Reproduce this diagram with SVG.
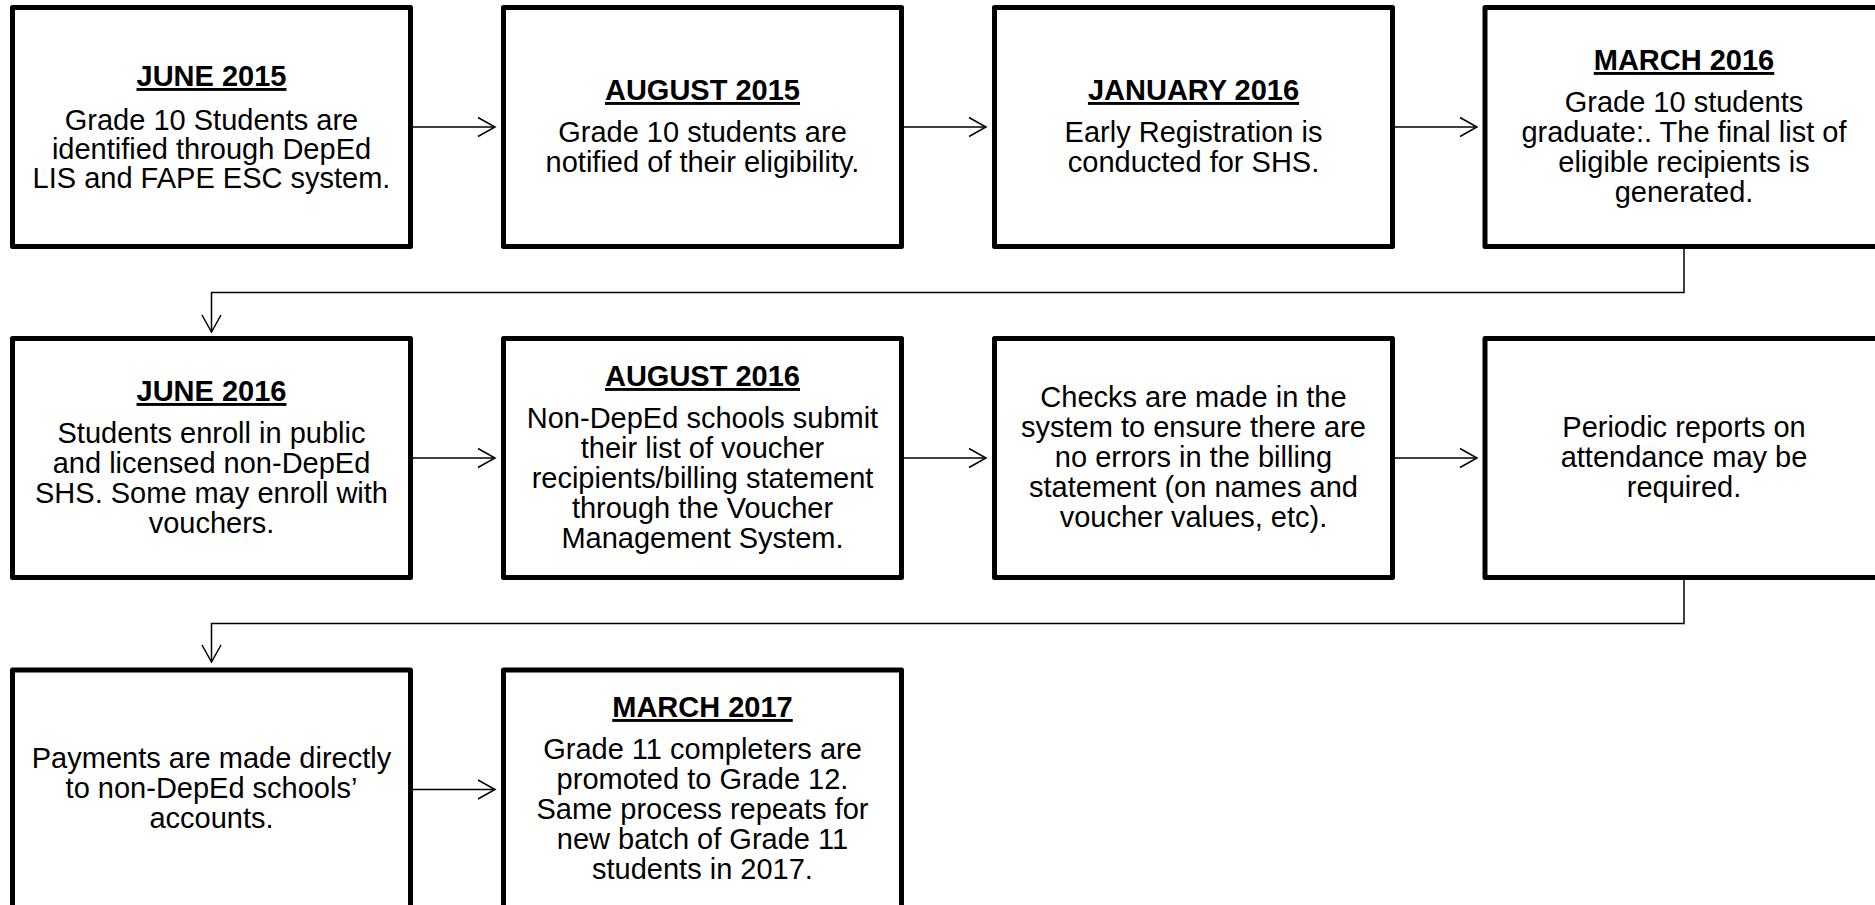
<svg xmlns="http://www.w3.org/2000/svg" width="1875" height="905" viewBox="0 0 1875 905">
<style>
.box{fill:#fff;stroke:#000;stroke-width:5;stroke-linejoin:round}
.t{font-family:"Liberation Sans",Arial,sans-serif;font-size:29px;fill:#000;text-anchor:middle}
.h{font-weight:bold;text-decoration:underline}
.c{fill:none;stroke:#000;stroke-width:1.5}
</style>
<defs>
<marker id="ah" markerUnits="userSpaceOnUse" markerWidth="24" markerHeight="24" viewBox="-20 -12 22 24" refX="0" refY="0" orient="auto">
<path d="M-17,-9.5 L0,0 L-17,9.5" fill="none" stroke="#000" stroke-width="1.5"/>
</marker>
</defs>
<rect width="1875" height="905" fill="#fff"/>
<g id="connectors">
<line class="c" x1="413" y1="127" x2="495" y2="127" marker-end="url(#ah)"/>
<line class="c" x1="904" y1="127" x2="986" y2="127" marker-end="url(#ah)"/>
<line class="c" x1="1395" y1="127" x2="1477" y2="127" marker-end="url(#ah)"/>
<polyline class="c" points="1684,249 1684,292.5 211.5,292.5 211.5,332" marker-end="url(#ah)"/>
<line class="c" x1="413" y1="458" x2="495" y2="458" marker-end="url(#ah)"/>
<line class="c" x1="904" y1="458" x2="986" y2="458" marker-end="url(#ah)"/>
<line class="c" x1="1395" y1="458" x2="1477" y2="458" marker-end="url(#ah)"/>
<polyline class="c" points="1684,580 1684,623.5 211.5,623.5 211.5,662" marker-end="url(#ah)"/>
<line class="c" x1="413" y1="789.5" x2="495" y2="789.5" marker-end="url(#ah)"/>
</g>
<g id="n1">
<rect class="box" x="12.5" y="7.5" width="398" height="239"/>
<text class="t"><tspan class="h" x="211.5" y="86">JUNE 2015</tspan><tspan x="211.5" y="130">Grade 10 Students are</tspan><tspan x="211.5" y="159">identified through DepEd</tspan><tspan x="211.5" y="188">LIS and FAPE ESC system.</tspan></text>
</g>
<g id="n2">
<rect class="box" x="503.5" y="7.5" width="398" height="239"/>
<text class="t"><tspan class="h" x="702.5" y="100">AUGUST 2015</tspan><tspan x="702.5" y="142">Grade 10 students are</tspan><tspan x="702.5" y="172">notified of their eligibility.</tspan></text>
</g>
<g id="n3">
<rect class="box" x="994.5" y="7.5" width="398" height="239"/>
<text class="t"><tspan class="h" x="1193.5" y="100">JANUARY 2016</tspan><tspan x="1193.5" y="142">Early Registration is</tspan><tspan x="1193.5" y="172">conducted for SHS.</tspan></text>
</g>
<g id="n4">
<rect class="box" x="1485" y="7.5" width="398" height="239"/>
<text class="t"><tspan class="h" x="1684" y="70">MARCH 2016</tspan><tspan x="1684" y="112">Grade 10 students</tspan><tspan x="1684" y="142">graduate:. The final list of</tspan><tspan x="1684" y="172">eligible recipients is</tspan><tspan x="1684" y="202">generated.</tspan></text>
</g>
<g id="n5">
<rect class="box" x="12.5" y="338.5" width="398" height="239"/>
<text class="t"><tspan class="h" x="211.5" y="401">JUNE 2016</tspan><tspan x="211.5" y="443">Students enroll in public</tspan><tspan x="211.5" y="473">and licensed non-DepEd</tspan><tspan x="211.5" y="503">SHS. Some may enroll with</tspan><tspan x="211.5" y="533">vouchers.</tspan></text>
</g>
<g id="n6">
<rect class="box" x="503.5" y="338.5" width="398" height="239"/>
<text class="t"><tspan class="h" x="702.5" y="386">AUGUST 2016</tspan><tspan x="702.5" y="428">Non-DepEd schools submit</tspan><tspan x="702.5" y="458">their list of voucher</tspan><tspan x="702.5" y="488">recipients/billing statement</tspan><tspan x="702.5" y="518">through the Voucher</tspan><tspan x="702.5" y="548">Management System.</tspan></text>
</g>
<g id="n7">
<rect class="box" x="994.5" y="338.5" width="398" height="239"/>
<text class="t"><tspan x="1193.5" y="407">Checks are made in the</tspan><tspan x="1193.5" y="437">system to ensure there are</tspan><tspan x="1193.5" y="467">no errors in the billing</tspan><tspan x="1193.5" y="497">statement (on names and</tspan><tspan x="1193.5" y="527">voucher values, etc).</tspan></text>
</g>
<g id="n8">
<rect class="box" x="1485" y="338.5" width="398" height="239"/>
<text class="t"><tspan x="1684" y="437">Periodic reports on</tspan><tspan x="1684" y="467">attendance may be</tspan><tspan x="1684" y="497">required.</tspan></text>
</g>
<g id="n9">
<rect class="box" x="12.5" y="670" width="398" height="239"/>
<text class="t"><tspan x="211.5" y="768">Payments are made directly</tspan><tspan x="211.5" y="798">to non-DepEd schools’</tspan><tspan x="211.5" y="828">accounts.</tspan></text>
</g>
<g id="n10">
<rect class="box" x="503.5" y="670" width="398" height="239"/>
<text class="t"><tspan class="h" x="702.5" y="717">MARCH 2017</tspan><tspan x="702.5" y="759">Grade 11 completers are</tspan><tspan x="702.5" y="789">promoted to Grade 12.</tspan><tspan x="702.5" y="819">Same process repeats for</tspan><tspan x="702.5" y="849">new batch of Grade 11</tspan><tspan x="702.5" y="879">students in 2017.</tspan></text>
</g>
</svg>
